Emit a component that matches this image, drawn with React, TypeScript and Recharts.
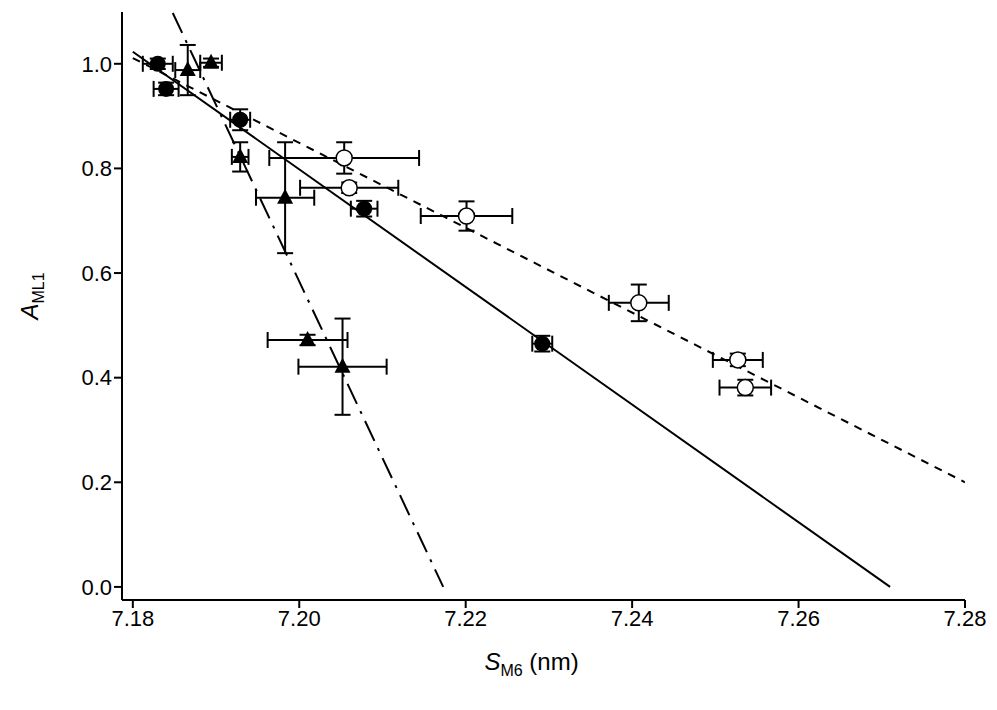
import React from "react";
import {
  ComposedChart,
  Scatter,
  Line,
  XAxis,
  YAxis,
  ErrorBar,
} from "recharts";

// filled circles
const filledX = [7.183, 7.184, 7.1929, 7.2078, 7.2292];
const filledY = [1.0, 0.952, 0.893, 0.723, 0.465];
const filledXErr = [0.0018, 0.0015, 0.0012, 0.0016, 0.0012];
const filledYErr = [0.01, 0.012, 0.02, 0.015, 0.015];

// open circles
const openX = [7.2054, 7.206, 7.2201, 7.2408, 7.2527, 7.2536];
const openY = [0.82, 0.763, 0.709, 0.543, 0.434, 0.381];
const openXErr = [0.009, 0.0059, 0.0055, 0.0036, 0.003, 0.0031];
const openYErr = [0.03, 0.01, 0.028, 0.035, 0.012, 0.015];

// triangles
const triX = [7.1866, 7.1894, 7.1929, 7.1983, 7.201, 7.2052];
const triY = [0.988, 1.002, 0.822, 0.744, 0.472, 0.421];
const triXErr = [0.0015, 0.0013, 0.001, 0.0035, 0.0048, 0.0053];
const triYErr = [0.048, 0.008, 0.028, 0.106, 0.01, 0.092];

// fit lines
const solidFit = [{ x: 7.18, y: 1.023 }, { x: 7.271, y: 0 }];
const dashedFit = [{ x: 7.18, y: 1.011 }, { x: 7.28, y: 0.2 }];
const dashDotFit = [{ x: 7.1848, y: 1.097 }, { x: 7.2173, y: 0 }];

const xTicks = [7.18, 7.2, 7.22, 7.24, 7.26, 7.28];
const yTicks = [0, 0.2, 0.4, 0.6, 0.8, 1.0];

const build = (xs: number[], ys: number[], ex: number[], ey: number[]) =>
  xs.map((x, i) => ({ x, y: ys[i], ex: ex[i], ey: ey[i] }));

const FilledDot = (p: any) => <circle cx={p.cx} cy={p.cy} r={8} fill="#000" />;
const OpenDot = (p: any) => (
  <circle cx={p.cx} cy={p.cy} r={8} fill="#fff" stroke="#000" strokeWidth={1.5} />
);
const Tri = (p: any) => (
  <polygon
    points={`${p.cx},${p.cy - 9} ${p.cx - 8},${p.cy + 6} ${p.cx + 8},${p.cy + 6}`}
    fill="#000"
  />
);

const font = "'Liberation Sans', Arial, sans-serif";
const tick = { fill: "#000", fontSize: 22, fontFamily: font };

function bars() {
  return [
    <ErrorBar key="x" dataKey="ex" direction="x" width={8} stroke="#000" strokeWidth={2} />,
    <ErrorBar key="y" dataKey="ey" direction="y" width={8} stroke="#000" strokeWidth={2} />,
  ];
}

export default function App() {
  return (
    <div style={{ position: "absolute", left: 0, top: 0, background: "#fff" }}>
      <ComposedChart
        width={997}
        height={710}
        margin={{ top: 12, right: 32, bottom: 50, left: 42 }}
      >
        <XAxis
          type="number"
          dataKey="x"
          domain={[7.1787, 7.28]}
          ticks={xTicks}
          tickFormatter={(v: number) => v.toFixed(2)}
          allowDataOverflow
          height={60}
          tick={tick}
          tickSize={8}
          axisLine={{ stroke: "#000", strokeWidth: 2 }}
          tickLine={{ stroke: "#000", strokeWidth: 2 }}
          label={(props: any) => {
            const vb = props.viewBox;
            return (
              <text
                x={vb.x + vb.width / 2 - 12}
                y={vb.y + 70}
                textAnchor="middle"
                fontFamily={font}
                fontSize={24}
                fill="#000"
              >
                <tspan fontStyle="italic">S</tspan>
                <tspan fontSize={16} dy={6}>M6</tspan>
                <tspan dy={-6}> (nm)</tspan>
              </text>
            );
          }}
        />
        <YAxis
          type="number"
          dataKey="y"
          domain={[-0.025, 1.099]}
          ticks={yTicks}
          tickFormatter={(v: number) => v.toFixed(1)}
          allowDataOverflow
          width={80}
          tick={tick}
          tickSize={8}
          axisLine={{ stroke: "#000", strokeWidth: 2 }}
          tickLine={{ stroke: "#000", strokeWidth: 2 }}
          label={(props: any) => {
            const vb = props.viewBox;
            const cx = 38;
            const cy = vb.y + vb.height / 2 - 10;
            return (
              <text
                transform={`rotate(-90 ${cx} ${cy})`}
                x={cx}
                y={cy}
                textAnchor="middle"
                fontFamily={font}
                fontSize={24}
                fill="#000"
              >
                <tspan fontStyle="italic">A</tspan>
                <tspan fontSize={16} dy={6}>ML1</tspan>
              </text>
            );
          }}
        />
        <Line data={solidFit} dataKey="y" stroke="#000" strokeWidth={2} dot={false} isAnimationActive={false} />
        <Line data={dashedFit} dataKey="y" stroke="#000" strokeWidth={2} strokeDasharray="8 7" dot={false} isAnimationActive={false} />
        <Line data={dashDotFit} dataKey="y" stroke="#000" strokeWidth={2} strokeDasharray="22 8 3 8" dot={false} isAnimationActive={false} />
        <Scatter data={build(openX, openY, openXErr, openYErr)} shape={OpenDot} isAnimationActive={false}>
          {bars()}
        </Scatter>
        <Scatter data={build(triX, triY, triXErr, triYErr)} shape={Tri} isAnimationActive={false}>
          {bars()}
        </Scatter>
        <Scatter data={build(filledX, filledY, filledXErr, filledYErr)} shape={FilledDot} isAnimationActive={false}>
          {bars()}
        </Scatter>
      </ComposedChart>
    </div>
  );
}
